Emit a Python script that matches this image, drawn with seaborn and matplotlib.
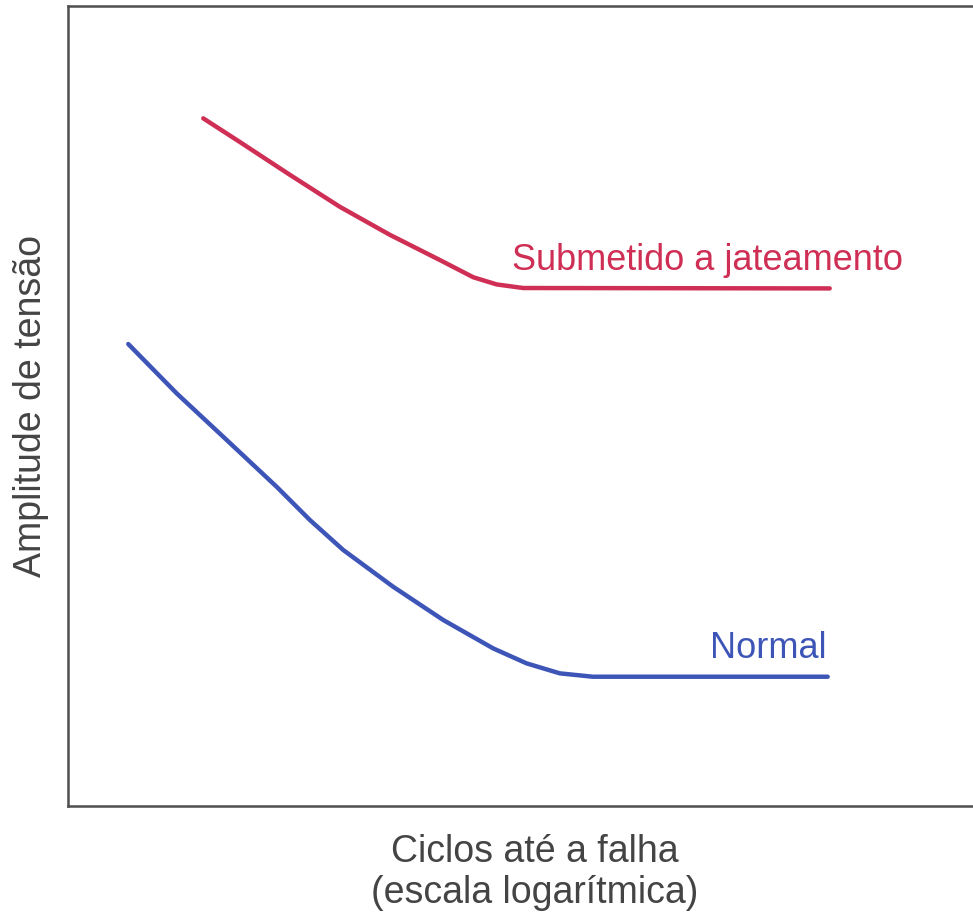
import numpy as np
import pandas as pd
import matplotlib
matplotlib.use("Agg")
import matplotlib.pyplot as plt
import seaborn as sns

# S-N curves (cycles on a log axis, amplitude in arbitrary units)
peened_cycles = [157, 331, 916, 2535, 7015, 19410, 38280, 61660, 105900, 5.44e7]
peened_amp = [85.96, 83.0, 78.9, 74.9, 71.4, 68.25, 66.1, 65.2, 64.75, 64.7]

normal_cycles = [34.1, 91.4, 253, 700, 1377, 2716, 7516, 20800, 57540, 113500,
                 223400, 437500, 5.22e7]
normal_amp = [57.75, 51.58, 45.75, 39.9, 35.75, 32.0, 27.4, 23.25, 19.7, 17.83,
              16.58, 16.16, 16.16]

series_names = ["Submetido a jateamento", "Normal"]
series_colors = ["#cf2f55", "#3e55b8"]
label_pos = [(84100, 67.0), (4.73e6, 18.5)]

df = pd.concat([
    pd.DataFrame({"ciclos": peened_cycles, "amp": peened_amp, "serie": series_names[0]}),
    pd.DataFrame({"ciclos": normal_cycles, "amp": normal_amp, "serie": series_names[1]}),
])

sns.set_style("white")
plt.rcParams["font.family"] = ["Liberation Sans", "DejaVu Sans"]

fig = plt.figure(figsize=(9.73, 9.13), dpi=100)
ax = fig.add_axes([0.0699, 0.1172, 0.96, 0.8762])

sns.lineplot(data=df, x="ciclos", y="amp", hue="serie", sort=False,
             palette=dict(zip(series_names, series_colors)), linewidth=3.2,
             legend=False, ax=ax)
for ln in ax.lines:
    ln.set_solid_joinstyle("round")

ax.set_xscale("log")
ax.set_xlim(10, 10 ** 9.26)
ax.set_ylim(0, 100)
ax.set_xticks([])
ax.set_yticks([])
ax.minorticks_off()

for name, color, (lx, ly) in zip(series_names, series_colors, label_pos):
    ax.text(lx, ly, name, color=color, fontsize=26, ha="left", va="baseline")

for side in ["left", "bottom", "top"]:
    ax.spines[side].set_color("#4f4f4f")
    ax.spines[side].set_linewidth(1.8)
ax.spines["right"].set_visible(False)

ax.set_xlabel("Ciclos até a falha\n(escala logarítmica)", fontsize=27, color="#444444",
              labelpad=20, linespacing=1.2)
ax.set_ylabel("Amplitude de tensão", fontsize=27, color="#444444", labelpad=14)

fig.savefig("out.png", dpi=100)
